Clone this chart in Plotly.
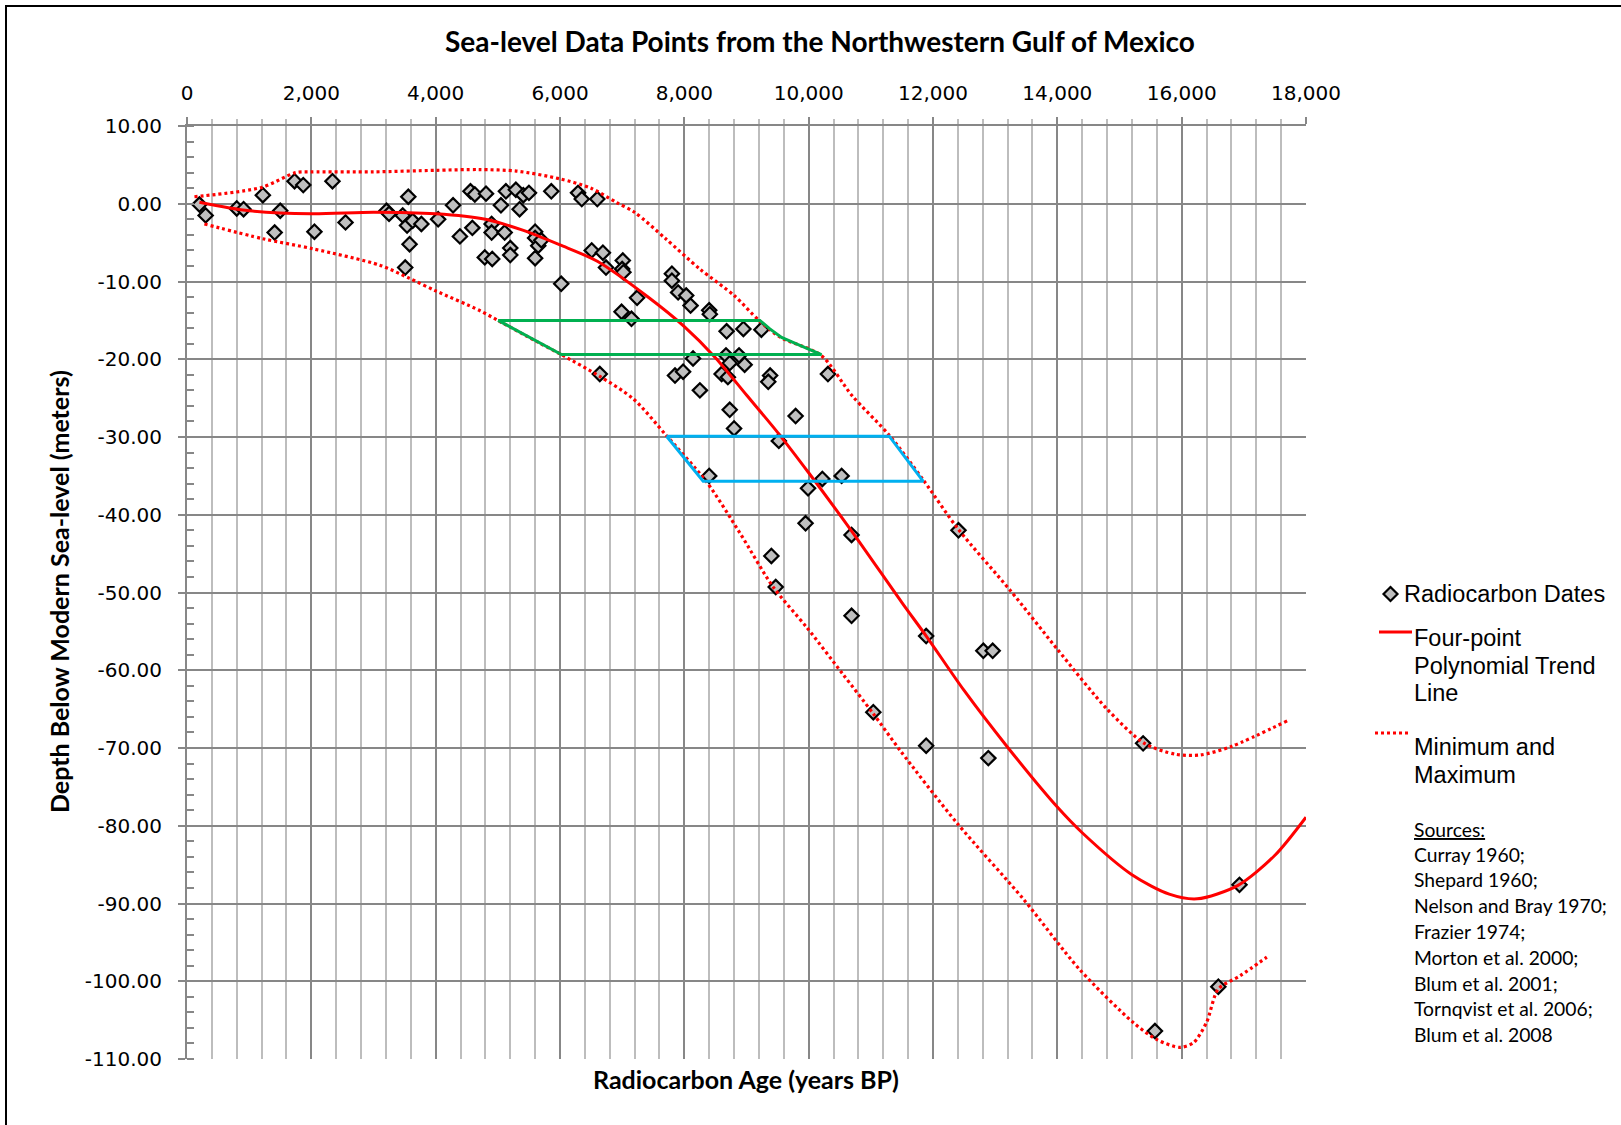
import plotly.graph_objects as go

# ---------------- data ----------------
age = [200, 300, 800, 910, 1220, 1410, 1500, 1730, 1870, 2050, 2340, 2550, 3210, 3250,
       3560, 3470, 3540, 3630, 3580, 3510, 3770, 4040, 4280, 4390, 4590, 4560, 4630, 4810,
       4790, 4910, 4900, 4900, 5050, 5110, 5130, 5290, 5350, 5410, 5500, 5200, 5200, 5600,
       5600, 5650, 5700, 5600, 5860, 6020, 6290, 6350, 6600, 6510, 6690, 6740, 7010, 7000,
       7020, 7240, 6990, 7150, 7800, 7800, 7900, 8030, 8100, 8400, 8410, 8680, 8950, 9240,
       8140, 7850, 7980, 8250, 8670, 8730, 8600, 8700, 8880, 8970, 9380, 9350, 10310, 8730,
       8800, 9790, 9520, 8400, 10220, 10530, 9990, 9950, 10690, 12410, 9400, 9470, 10690,
       11890, 12810, 12960, 11040, 11890, 12890, 15380, 16930, 15570, 16590, 6640]
depth = [-0.1, -1.5, -0.6, -0.7, 1.1, -3.7, -0.9, 2.9, 2.4, -3.6, 2.9, -2.4, -0.9, -1.3,
         0.9, -1.5, -2.8, -2.2, -5.2, -8.2, -2.6, -2.0, -0.2, -4.2, -3.1, 1.6, 1.2, 1.3,
         -6.9, -7.1, -2.6, -3.7, -0.2, -3.7, 1.6, 1.8, -0.7, 1.1, 1.4, -5.7, -6.6, -3.6,
         -4.4, -5.4, -4.7, -7.0, 1.6, -10.3, 1.4, 0.6, 0.6, -6.0, -6.3, -8.2, -7.3, -8.4,
         -8.8, -12.1, -13.9, -14.8, -9.0, -9.9, -11.4, -11.8, -13.1, -13.7, -14.2, -16.4, -16.1, -16.2,
         -19.9, -22.1, -21.6, -24.0, -19.5, -20.5, -21.9, -22.3, -19.5, -20.7, -22.1, -22.9, -21.9, -26.5,
         -28.9, -27.3, -30.5, -35.0, -35.4, -35.0, -36.6, -41.1, -42.6, -42.0, -45.3, -49.3, -53.0,
         -55.6, -57.5, -57.5, -65.4, -69.7, -71.3, -69.4, -87.6, -106.4, -100.7, -21.9]

trend_x = [200, 1000, 2000, 3000, 4000, 4800, 5400, 6000, 6600, 7400, 8000, 8500, 9000,
           9500, 10000, 10700, 11500, 11900, 12500, 13200, 14000, 14400, 15200, 15800,
           16250, 16900, 17500, 18000]
trend_y = [0.2, -0.9, -1.3, -1.1, -1.3, -2.0, -3.4, -5.3, -7.4, -11.9, -15.8, -19.8, -24.6,
           -29.4, -34.6, -42.2, -51.3, -55.7, -62.6, -69.9, -77.6, -80.9, -86.3, -88.8,
           -89.4, -87.7, -83.8, -78.9]

max_x = [120, 1200, 1750, 2000, 3000, 4000, 4700, 5300, 6000, 6500, 6900, 7200, 7700, 8250,
         8800, 9200, 9550, 10200, 10700, 11300, 11850, 12400, 13250, 14000, 14800, 15400,
         15900, 16300, 16800, 17700]
max_y = [0.9, 2.1, 4.0, 4.1, 4.1, 4.3, 4.4, 4.2, 3.2, 2.0, 0.2, -1.1, -4.5, -8.4, -11.8,
         -15.0, -17.2, -19.5, -24.7, -29.8, -35.6, -41.8, -49.8, -57.3, -65.0, -69.4, -70.8,
         -70.9, -69.8, -66.5]

min_x = [280, 1220, 2030, 3100, 3580, 4000, 4700, 5000, 5620, 6020, 6640, 7180, 7710, 8360,
         8890, 9430, 9970, 10550, 11040, 11470, 12380, 13450, 14360, 15220, 15600, 15970,
         16190, 16400, 16590, 16940, 17370]
min_y = [-2.6, -4.5, -5.8, -7.9, -9.6, -11.2, -13.7, -15.0, -17.7, -19.4, -22.2, -25.1, -29.8,
         -35.8, -42.3, -49.3, -54.5, -60.5, -65.6, -70.3, -79.6, -89.4, -98.5, -105.3, -107.5,
         -108.5, -107.9, -105.3, -101.0, -99.3, -96.9]

green_x = [5004, 9215, 9376, 9564, 9859, 10207, 6024, 5622, 5004]
green_y = [-15.0, -15.0, -16.1, -17.2, -18.2, -19.4, -19.4, -17.7, -15.0]

blue_x = [7714, 11296, 11843, 8303, 7714]
blue_y = [-29.9, -29.9, -35.7, -35.7, -29.9]

x_ticks = [0, 2000, 4000, 6000, 8000, 10000, 12000, 14000, 16000, 18000]
x_tick_labels = ["0", "2,000", "4,000", "6,000", "8,000", "10,000", "12,000", "14,000",
                 "16,000", "18,000"]
y_ticks = [10, 0, -10, -20, -30, -40, -50, -60, -70, -80, -90, -100, -110]
y_tick_labels = ["10.00", "0.00", "-10.00", "-20.00", "-30.00", "-40.00", "-50.00", "-60.00",
                 "-70.00", "-80.00", "-90.00", "-100.00", "-110.00"]

sources = ["Curray 1960;", "Shepard 1960;", "Nelson and Bray 1970;", "Frazier 1974;",
           "Morton et al. 2000;", "Blum et al. 2001;", "Tornqvist et al. 2006;", "Blum et al. 2008"]

# ---------------- layout geometry ----------------
W, H = 1621, 1125
L, R, T, B = 187, 1306, 126, 1059


def pxx(x):
    return (x - L) / (R - L)


def pxy(y):
    return (B - y) / (B - T)


RED = "#FF0000"
fig = go.Figure()

fig.add_trace(go.Scatter(x=age, y=depth, mode="markers", name="Radiocarbon Dates",
                         marker=dict(symbol="diamond", size=11, color="#BFBFBF",
                                     line=dict(color="black", width=2.2)),
                         showlegend=False))
fig.add_trace(go.Scatter(x=max_x, y=max_y, mode="lines", line=dict(color=RED, width=3.2, dash="3px,3px",
                         shape="spline", smoothing=0.8), showlegend=False))
fig.add_trace(go.Scatter(x=min_x, y=min_y, mode="lines", line=dict(color=RED, width=3.2, dash="3px,3px",
                         shape="spline", smoothing=0.8), showlegend=False))
fig.add_trace(go.Scatter(x=trend_x, y=trend_y, mode="lines", line=dict(color=RED, width=3,
                         shape="spline", smoothing=0.8), showlegend=False))
fig.add_trace(go.Scatter(x=green_x, y=green_y, mode="lines", line=dict(color="#00B050", width=3),
                         showlegend=False))
fig.add_trace(go.Scatter(x=blue_x, y=blue_y, mode="lines", line=dict(color="#00B0F0", width=3),
                         showlegend=False))

tickfont = dict(family="DejaVu Sans", size=20, color="black")
GRID_MAJOR = "#878787"
GRID_MINOR = "#BDBDBD"

fig.update_xaxes(range=[0, 18000], side="top", tickvals=x_ticks, ticktext=x_tick_labels,
                 ticks="outside", ticklen=7, tickwidth=2, tickcolor=GRID_MAJOR,
                 tickfont=tickfont, showgrid=True, gridcolor=GRID_MAJOR, gridwidth=2,
                 showline=True, linecolor=GRID_MAJOR, linewidth=2, zeroline=False,
                 automargin=False, ticklabelstandoff=9,
                 minor=dict(dtick=400, tick0=0, showgrid=True, gridcolor=GRID_MINOR, gridwidth=2,
                            ticks="outside", ticklen=5, tickcolor=GRID_MINOR, tickwidth=2))
fig.update_yaxes(range=[-110, 10], tickvals=y_ticks, ticktext=y_tick_labels,
                 ticks="outside", ticklen=7, tickwidth=2, tickcolor=GRID_MAJOR,
                 tickfont=tickfont, showgrid=True, gridcolor=GRID_MAJOR, gridwidth=2,
                 showline=True, linecolor=GRID_MAJOR, linewidth=2, zeroline=False,
                 automargin=False, ticklabelstandoff=12,
                 minor=dict(dtick=2, tick0=0, showgrid=False, ticks="inside", ticklen=7,
                            tickcolor=GRID_MAJOR, tickwidth=1.5))

ann = []
ann.append(dict(text="<b>Sea-level Data Points from the Northwestern Gulf of Mexico</b>",
                x=pxx(820), y=pxy(41), xref="paper", yref="paper", showarrow=False,
                xanchor="center", yanchor="middle", font=dict(family="Lato", size=28, color="black")))
ann.append(dict(text="<b>Radiocarbon Age (years BP)</b>", x=pxx(746), y=pxy(1079),
                xref="paper", yref="paper", showarrow=False, xanchor="center", yanchor="middle",
                font=dict(family="Lato", size=25, color="black")))
ann.append(dict(text="<b>Depth Below Modern Sea-level (meters)</b>", x=pxx(59), y=pxy(592),
                xref="paper", yref="paper", showarrow=False, xanchor="center", yanchor="middle",
                textangle=-90, font=dict(family="Lato", size=25, color="black")))

legfont = dict(family="Liberation Sans", size=23.5, color="black")
ann.append(dict(text="Radiocarbon Dates", x=pxx(1402), y=pxy(594), xref="paper", yref="paper",
                showarrow=False, xanchor="left", yanchor="middle", font=legfont))
for txt, yy in [("Four-point", 638), ("Polynomial Trend", 665.5), ("Line", 693),
                ("Minimum and", 747), ("Maximum", 775)]:
    ann.append(dict(text=txt, x=pxx(1412), y=pxy(yy), xref="paper", yref="paper",
                    showarrow=False, xanchor="left", yanchor="middle", font=legfont))
srcfont = dict(family="Lato", size=19.3, color="black")
ann.append(dict(text="<u>Sources:</u>", x=pxx(1412), y=pxy(829), xref="paper", yref="paper",
                showarrow=False, xanchor="left", yanchor="middle", font=srcfont))
for i, s in enumerate(sources):
    ann.append(dict(text=s, x=pxx(1412), y=pxy(854 + i * 25.8), xref="paper", yref="paper",
                    showarrow=False, xanchor="left", yanchor="middle", font=srcfont))

shapes = []
# outer border
shapes.append(dict(type="rect", xref="paper", yref="paper", x0=pxx(6), x1=pxx(1640),
                   y0=pxy(1140), y1=pxy(6), line=dict(color="black", width=2)))
# legend diamond
cx, cy, r = 1390.5, 594, 7
path = "M {},{} L {},{} L {},{} L {},{} Z".format(pxx(cx - r), pxy(cy), pxx(cx), pxy(cy - r),
                                                   pxx(cx + r), pxy(cy), pxx(cx), pxy(cy + r))
shapes.append(dict(type="path", xref="paper", yref="paper", path=path, fillcolor="#BFBFBF",
                   line=dict(color="black", width=2.2)))
shapes.append(dict(type="line", xref="paper", yref="paper", x0=pxx(1379), x1=pxx(1412),
                   y0=pxy(632), y1=pxy(632), line=dict(color=RED, width=3)))
shapes.append(dict(type="line", xref="paper", yref="paper", x0=pxx(1375), x1=pxx(1409),
                   y0=pxy(733), y1=pxy(733), line=dict(color=RED, width=3.2, dash="3px,3px")))

fig.update_layout(width=W, height=H, margin=dict(l=L, r=W - R, t=T, b=H - B, pad=0),
                  paper_bgcolor="white", plot_bgcolor="white", showlegend=False,
                  annotations=ann, shapes=shapes, template="none")

fig.write_html("out.html")
